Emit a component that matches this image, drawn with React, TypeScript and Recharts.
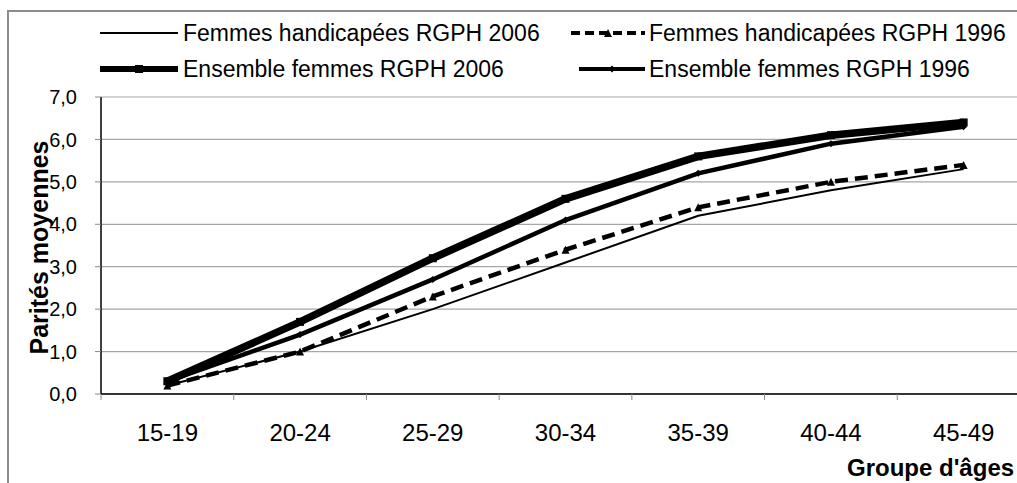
import React from 'react';
import { LineChart, Line, XAxis, YAxis, CartesianGrid, Legend, Label } from 'recharts';

// ---- data ----
const categories = ['15-19', '20-24', '25-29', '30-34', '35-39', '40-44', '45-49'];
const handi2006 = [0.2, 1.0, 2.0, 3.1, 4.2, 4.8, 5.3];
const handi1996 = [0.2, 1.0, 2.3, 3.4, 4.4, 5.0, 5.4];
const ensemble2006 = [0.3, 1.7, 3.2, 4.6, 5.6, 6.1, 6.4];
const ensemble1996 = [0.3, 1.4, 2.7, 4.1, 5.2, 5.9, 6.3];
const seriesNames = [
  'Femmes handicapées RGPH 2006',
  'Femmes handicapées RGPH 1996',
  'Ensemble femmes RGPH 2006',
  'Ensemble femmes RGPH 1996',
];
const yTicks = [0, 1, 2, 3, 4, 5, 6, 7];
const yTickLabels = ['0,0', '1,0', '2,0', '3,0', '4,0', '5,0', '6,0', '7,0'];
const xTitle = "Groupe d'âges";
const yTitle = 'Parités moyennes';

const data = categories.map((c, i) => ({
  cat: c,
  h2006: handi2006[i],
  h1996: handi1996[i],
  e2006: ensemble2006[i],
  e1996: ensemble1996[i],
}));

// ---- layout ----
const CHART_W = 1040;
const CHART_H = 483;
const MARGIN = { top: 97, right: 10, bottom: 0, left: 0 };
const Y_AXIS_W = 101;
const X_AXIS_H = 89;
const PLOT_W = CHART_W - MARGIN.left - MARGIN.right - Y_AXIS_W;
const BAND = PLOT_W / categories.length;
const FONT = 'Liberation Sans, Arial, sans-serif';

const XTick = (props: any) => {
  const { x, y, payload, index } = props;
  return (
    <g>
      <line x1={x - BAND / 2} x2={x - BAND / 2} y1={y} y2={y + 6} stroke="#8a8a8a" strokeWidth={1} />
      {index === categories.length - 1 && (
        <line x1={x + BAND / 2} x2={x + BAND / 2} y1={y} y2={y + 6} stroke="#8a8a8a" strokeWidth={1} />
      )}
      <text x={x} y={y + 38} textAnchor="middle" dominantBaseline="central" fontFamily={FONT} fontSize={24} fill="#000">
        {payload.value}
      </text>
    </g>
  );
};

const triangleDot = (props: any) => {
  const { cx, cy, index } = props;
  if (cx == null || cy == null) return <g key={`t${index}`} />;
  const s = 4;
  return <path key={`t${index}`} d={`M${cx},${cy - s} L${cx + s},${cy + s} L${cx - s},${cy + s} Z`} fill="#000" />;
};
const squareDot = (props: any) => {
  const { cx, cy, index } = props;
  if (cx == null || cy == null) return <g key={`s${index}`} />;
  return <rect key={`s${index}`} x={cx - 4} y={cy - 4} width={8} height={8} fill="#000" />;
};
const diamondDot = (props: any) => {
  const { cx, cy, index } = props;
  if (cx == null || cy == null) return <g key={`d${index}`} />;
  const s = 3.5;
  return <path key={`d${index}`} d={`M${cx},${cy - s} L${cx + s},${cy} L${cx},${cy + s} L${cx - s},${cy} Z`} fill="#000" />;
};

const LegendContent = () => {
  const fs = 23;
  const r1 = 33;
  const r2 = 69;
  return (
    <svg width={1017} height={90} style={{ display: 'block' }}>
      {/* item 1 */}
      <line x1={100} x2={178} y1={r1} y2={r1} stroke="#000" strokeWidth={2} />
      <text x={183} y={r1} dominantBaseline="central" fontFamily={FONT} fontSize={fs} fill="#000">{seriesNames[0]}</text>
      {/* item 2 */}
      <line x1={571} x2={645} y1={r1} y2={r1} stroke="#000" strokeWidth={4} strokeDasharray="9 5" />
      <path d={`M608,${r1 - 4} L612,${r1 + 4} L604,${r1 + 4} Z`} fill="#000" />
      <text x={649} y={r1} dominantBaseline="central" fontFamily={FONT} fontSize={fs} fill="#000">{seriesNames[1]}</text>
      {/* item 3 */}
      <line x1={100} x2={178} y1={r2} y2={r2} stroke="#000" strokeWidth={6} />
      <rect x={135} y={r2 - 4} width={8} height={8} fill="#000" />
      <text x={183} y={r2} dominantBaseline="central" fontFamily={FONT} fontSize={fs} fill="#000">{seriesNames[2]}</text>
      {/* item 4 */}
      <line x1={579} x2={645} y1={r2} y2={r2} stroke="#000" strokeWidth={4} />
      <path d={`M612,${r2 - 3.5} L615.5,${r2} L612,${r2 + 3.5} L608.5,${r2} Z`} fill="#000" />
      <text x={649} y={r2} dominantBaseline="central" fontFamily={FONT} fontSize={fs} fill="#000">{seriesNames[3]}</text>
    </svg>
  );
};

const YTitle = (props: any) => {
  const { viewBox } = props;
  const cx = 39;
  const cy = viewBox.y + viewBox.height / 2 + 2;
  return (
    <text
      x={cx}
      y={cy}
      transform={`rotate(-90, ${cx}, ${cy})`}
      textAnchor="middle"
      dominantBaseline="central"
      fontFamily={FONT}
      fontWeight="bold"
      fontSize={25}
      fill="#000"
    >
      {yTitle}
    </text>
  );
};

const XTitle = () => {
  return (
    <text x={847} y={467} textAnchor="start" dominantBaseline="central" fontFamily={FONT} fontWeight="bold" fontSize={24} fill="#000">
      {xTitle}
    </text>
  );
};

export default function App() {
  return (
    <div style={{ position: 'absolute', left: 0, top: 0, width: 1017, height: 483, overflow: 'hidden', background: '#fff' }}>
      <div
        style={{
          position: 'absolute',
          left: 7,
          top: 10,
          width: 2000,
          height: 2000,
          border: '2px solid #8c8c8c',
          boxSizing: 'border-box',
        }}
      />
      <div style={{ position: 'absolute', left: 0, top: 0 }}>
        <LineChart width={CHART_W} height={CHART_H} data={data} margin={MARGIN}>
          <CartesianGrid vertical={false} stroke="#a6a6a6" strokeWidth={1.2} />
          <XAxis
            dataKey="cat"
            scale="band"
            height={X_AXIS_H}
            axisLine={{ stroke: '#000', strokeWidth: 1.5 }}
            tickLine={false}
            tickSize={0}
            tickMargin={0}
            tick={<XTick />}
            interval={0}
          >
            <Label content={<XTitle />} />
          </XAxis>
          <YAxis
            width={Y_AXIS_W}
            domain={[0, 7]}
            ticks={yTicks}
            interval={0}
            tickFormatter={(v: number) => yTickLabels[yTicks.indexOf(v)]}
            axisLine={{ stroke: '#000', strokeWidth: 1.5 }}
            tickLine={{ stroke: '#8a8a8a' }}
            tickSize={6}
            tickMargin={18}
            tick={{ fontFamily: FONT, fontSize: 20, fill: '#000' }}
          >
            <Label content={<YTitle />} />
          </YAxis>
          <Legend
            layout="horizontal"
            verticalAlign="middle"
            align="center"
            wrapperStyle={{ top: 0, left: 0, width: 1017, height: 90 }}
            content={() => <LegendContent />}
          />
          <Line
            dataKey="h2006"
            name={seriesNames[0]}
            type="linear"
            stroke="#000"
            strokeWidth={2}
            dot={false}
            activeDot={false}
            isAnimationActive={false}
          />
          <Line
            dataKey="h1996"
            name={seriesNames[1]}
            type="linear"
            stroke="#000"
            strokeWidth={4.5}
            strokeDasharray="13 7"
            dot={triangleDot}
            activeDot={false}
            isAnimationActive={false}
          />
          <Line
            dataKey="e2006"
            name={seriesNames[2]}
            type="linear"
            stroke="#000"
            strokeWidth={7.5}
            dot={squareDot}
            activeDot={false}
            isAnimationActive={false}
          />
          <Line
            dataKey="e1996"
            name={seriesNames[3]}
            type="linear"
            stroke="#000"
            strokeWidth={4.5}
            dot={diamondDot}
            activeDot={false}
            isAnimationActive={false}
          />
        </LineChart>
      </div>
    </div>
  );
}
